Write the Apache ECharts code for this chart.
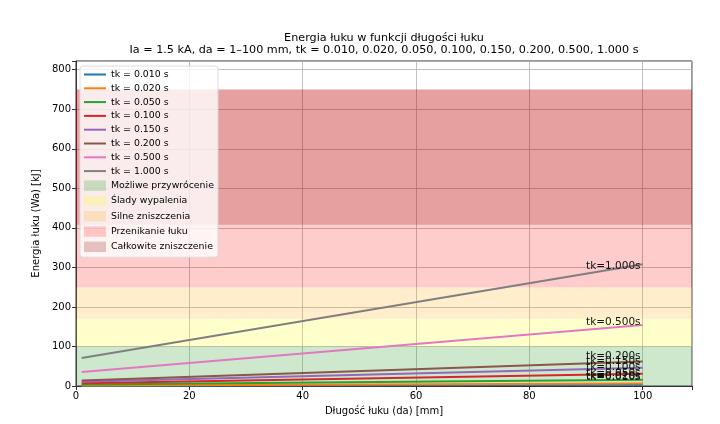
<!DOCTYPE html>
<html lang="pl">
<head>
  <meta charset="UTF-8">
  <title>Energia łuku w funkcji długości łuku</title>
  <script src="https://cdn.jsdelivr.net/npm/echarts@6/dist/echarts.min.js"></script>
  <style>
    html, body { margin: 0; padding: 0; background: #fff; }
    #chart { width: 720px; height: 424px; }
  </style>
</head>
<body>
  <div id="chart"></div>
  <script>
    // długość łuku: punkty początkowy i końcowy (linie proste)
    const arcLength = [1, 100];
    const tkNames = ['tk = 0.010 s', 'tk = 0.020 s', 'tk = 0.050 s', 'tk = 0.100 s',
                     'tk = 0.150 s', 'tk = 0.200 s', 'tk = 0.500 s', 'tk = 1.000 s'];
    const tkLabels = ['tk=0.010s', 'tk=0.020s', 'tk=0.050s', 'tk=0.100s',
                      'tk=0.150s', 'tk=0.200s', 'tk=0.500s', 'tk=1.000s'];
    // energia [kJ] dla da = 1 i da = 100
    const energyStart = [0.7, 1.4, 3.5, 7, 10.6, 14, 35.5, 71];
    const energyEnd = [3.1, 6.2, 15.5, 31, 46, 62, 154, 308];
    const lineColors = ['#1f77b4', '#ff7f0e', '#2ca02c', '#d62728',
                        '#9467bd', '#8c564b', '#e377c2', '#7f7f7f'];

    // strefy uszkodzeń [od, do]
    const zoneNames = ['Możliwe przywrócenie', 'Ślady wypalenia', 'Silne zniszczenia',
                       'Przenikanie łuku', 'Całkowite zniszczenie'];
    const zoneFrom = [0, 100, 170, 250, 408];
    const zoneTo = [100, 170, 250, 750, 750];
    const zoneColors = ['rgba(44,160,44,0.24)', 'rgba(255,255,0,0.2)', 'rgba(255,165,0,0.2)',
                        'rgba(255,0,0,0.2)', 'rgba(139,0,0,0.22)'];

    const font = 'DejaVu Sans';
    const chart = echarts.init(document.getElementById('chart'));

    const series = [];
    zoneNames.forEach((name, i) => {
      series.push({
        name: name,
        type: 'line',
        data: [],
        itemStyle: { color: zoneColors[i] },
        markArea: {
          silent: true,
          itemStyle: { color: zoneColors[i] },
          data: [[{ yAxis: zoneFrom[i] }, { yAxis: zoneTo[i] }]]
        },
        z: 1
      });
    });
    tkNames.forEach((name, i) => {
      series.push({
        name: name,
        type: 'line',
        symbol: 'none',
        data: arcLength.map((d, j) => [d, j === 0 ? energyStart[i] : energyEnd[i]]),
        lineStyle: { color: lineColors[i], width: 2 },
        itemStyle: { color: lineColors[i] },
        markPoint: {
          symbol: 'circle',
          symbolSize: 0,
          silent: true,
          data: [{
            coord: [90, energyStart[i] + (energyEnd[i] - energyStart[i]) * 89 / 99],
            label: {
              show: true,
              formatter: tkLabels[i],
              position: [0, -2],
              verticalAlign: 'bottom',
              align: 'left',
              color: '#111',
              fontFamily: font,
              fontSize: 10.5
            }
          }]
        },
        z: 3
      });
    });

    chart.setOption({
      animation: false,
      title: {
        text: 'Energia łuku w funkcji długości łuku\nIa = 1.5 kA, da = 1–100 mm, tk = 0.010, 0.020, 0.050, 0.100, 0.150, 0.200, 0.500, 1.000 s',
        left: 384,
        textAlign: 'center',
        top: 32.5,
        padding: 0,
        textStyle: { fontFamily: font, fontSize: 11.2, fontWeight: 'normal', color: '#000', lineHeight: 12 }
      },
      grid: { left: 76, right: 28, top: 61, bottom: 38, show: true, borderColor: '#333', borderWidth: 1 },
      legend: {
        orient: 'vertical',
        left: 80,
        top: 66,
        padding: [4, 4, 5, 3],
        itemGap: 4.8,
        itemWidth: 22,
        itemHeight: 10.5,
        backgroundColor: 'rgba(255,255,255,0.8)',
        borderColor: '#ddd',
        borderWidth: 1,
        borderRadius: 3,
        textStyle: { fontFamily: font, fontSize: 9.4, color: '#000' },
        data: tkNames.map(n => ({ name: n, itemStyle: { opacity: 0 } }))
          .concat(zoneNames.map(n => ({ name: n, icon: 'rect' })))
      },
      xAxis: {
        type: 'value',
        min: 0,
        max: 108.7,
        interval: 20,
        name: 'Długość łuku (da) [mm]',
        nameLocation: 'middle',
        nameGap: 20,
        nameTextStyle: { fontFamily: font, fontSize: 10, color: '#000' },
        axisLine: { lineStyle: { color: '#333' } },
        axisTick: { show: true, length: 4, lineStyle: { color: '#333' } },
        axisLabel: {
          fontFamily: font, fontSize: 10, color: '#000', margin: 5,
          formatter: v => (v % 20 === 0 && v <= 100 ? v : '')
        },
        splitLine: { show: true, lineStyle: { color: '#b0b0b0', width: 0.8 } }
      },
      yAxis: {
        type: 'value',
        min: 0,
        max: 822,
        interval: 100,
        name: 'Energia łuku (Wa) [kJ]',
        nameLocation: 'middle',
        nameGap: 28,
        nameTextStyle: { fontFamily: font, fontSize: 10, color: '#000' },
        axisLine: { show: true, lineStyle: { color: '#333' } },
        axisTick: { show: true, length: 4, lineStyle: { color: '#333' } },
        axisLabel: {
          fontFamily: font, fontSize: 10, color: '#000', margin: 5,
          formatter: v => (v % 100 === 0 ? v : '')
        },
        splitLine: { show: true, lineStyle: { color: '#b0b0b0', width: 0.8 } }
      },
      series: series
    });
  </script>
</body>
</html>
